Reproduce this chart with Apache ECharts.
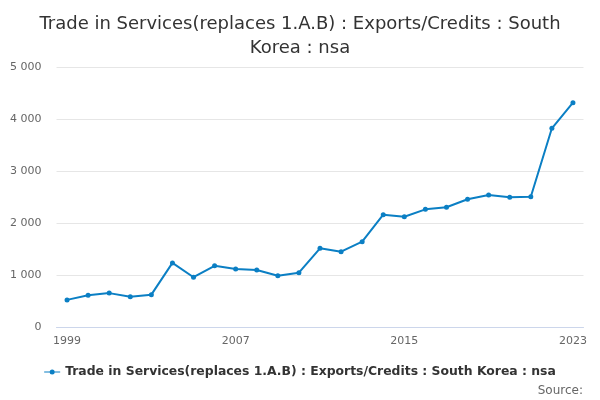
<!DOCTYPE html>
<html>
<head>
<meta charset="utf-8">
<script src="https://cdn.jsdelivr.net/npm/echarts@6/dist/echarts.min.js"></script>
<style>html,body{margin:0;padding:0;background:#fff}#c{width:600px;height:400px}</style>
</head>
<body>
<div id="c"></div>
<script>
const years = ['1999','2000','2001','2002','2003','2004','2005','2006','2007','2008','2009','2010','2011','2012','2013','2014','2015','2016','2017','2018','2019','2020','2021','2022','2023'];
const values = [530, 620, 660, 590, 630, 1240, 965, 1185, 1123, 1104, 995, 1052, 1520, 1455, 1647, 2165, 2127, 2268, 2307, 2461, 2543, 2499, 2511, 3823, 4315];
const seriesName = 'Trade in Services(replaces 1.A.B) : Exports/Credits : South Korea : nsa';
const titleText = 'Trade in Services(replaces 1.A.B) : Exports/Credits : South\nKorea : nsa';
const FONT = 'DejaVu Sans';
const chart = echarts.init(document.getElementById('c'), null, {renderer: 'canvas'});
chart.setOption({
  animation: false,
  backgroundColor: '#fff',
  textStyle: {fontFamily: FONT},
  title: [{
    text: titleText,
    left: 'center',
    top: 7,
    textStyle: {fontFamily: FONT, fontSize: 18, fontWeight: 'normal', color: '#333', lineHeight: 24}
  }, {
    text: 'Source:',
    right: 12,
    top: 380,
    textStyle: {fontFamily: FONT, fontSize: 12, fontWeight: 'normal', color: '#666'}
  }],
  legend: {
    bottom: 17,
    left: 'center',
    itemWidth: 16,
    itemHeight: 6,
    itemGap: 10,
    textStyle: {fontFamily: FONT, fontSize: 12.4, fontWeight: 'bold', color: '#333'},
    data: [{name: seriesName, icon: 'path://M0,2.5 L16,2.5 L16,3.5 L0,3.5 Z M5.5,3 A2.5,2.5 0 1 1 10.5,3 A2.5,2.5 0 1 1 5.5,3 Z'}]
  },
  grid: {left: 56.5, right: 16.5, top: 67, bottom: 72.5, containLabel: false},
  xAxis: {
    type: 'category',
    data: years,
    boundaryGap: true,
    axisLine: {lineStyle: {color: '#ccd6eb'}},
    axisTick: {alignWithLabel: true, interval: 1, length: 10, lineStyle: {color: '#ccd6eb'}},
    axisLabel: {interval: 7, color: '#666', fontSize: 11, fontFamily: FONT, margin: 8},
    splitLine: {show: false}
  },
  yAxis: {
    type: 'value',
    min: 0,
    max: 5000,
    interval: 1000,
    axisLine: {show: false},
    axisTick: {show: false},
    axisLabel: {
      color: '#666', fontSize: 11, fontFamily: FONT, margin: 15,
      formatter: v => String(v).replace(/\B(?=(\d{3})+(?!\d))/g, ' ')
    },
    splitLine: {lineStyle: {color: '#e6e6e6'}}
  },
  series: [{
    name: seriesName,
    type: 'line',
    data: values,
    color: '#0b7fc4',
    lineStyle: {width: 2},
    symbol: 'circle',
    symbolSize: 5,
    showSymbol: true
  }]
});
</script>
</body>
</html>
